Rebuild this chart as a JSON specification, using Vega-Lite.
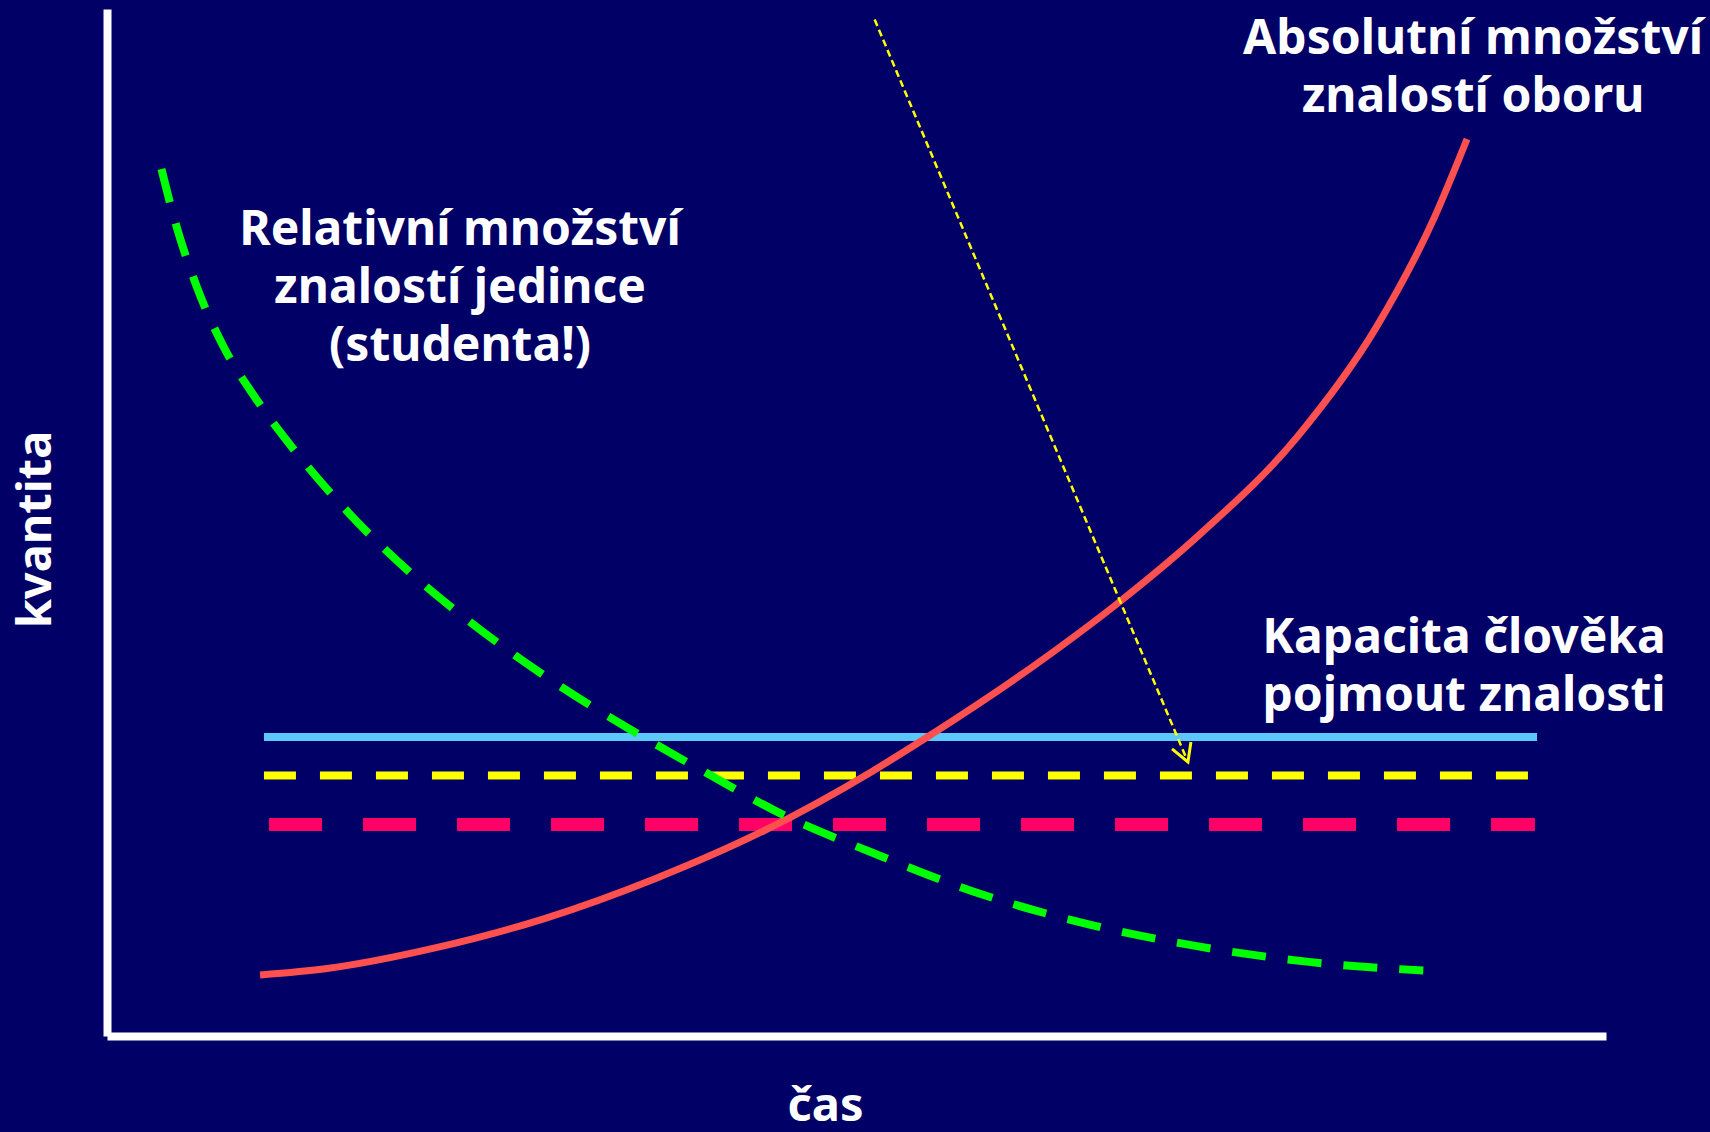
{
  "$schema": "https://vega.github.io/schema/vega-lite/v6.json",
  "width": 1499,
  "height": 1027,
  "autosize": {"type": "none"},
  "padding": {"left": 107, "top": 9, "right": 104, "bottom": 96},
  "background": "#000066",
  "config": {
    "view": {"stroke": null},
    "font": "Noto Sans",
    "axis": {
      "domainColor": "#FFFFFF",
      "domainWidth": 8,
      "ticks": false,
      "labels": false,
      "grid": false,
      "titleColor": "#FFFFFF",
      "titleFont": "Noto Sans",
      "titleFontSize": 47,
      "titleFontWeight": "bold"
    }
  },
  "datasets": {
    "absolute": [
      {"x": 10.21, "y": 5.94},
      {"x": 14.69, "y": 6.57},
      {"x": 21.96, "y": 8.6},
      {"x": 29.24, "y": 11.46},
      {"x": 36.52, "y": 15.29},
      {"x": 43.79, "y": 19.96},
      {"x": 51.07, "y": 25.79},
      {"x": 54.7, "y": 29.09},
      {"x": 61.98, "y": 36.2},
      {"x": 67.44, "y": 42.15},
      {"x": 72.9, "y": 48.84},
      {"x": 79.44, "y": 58.4},
      {"x": 84.68, "y": 69.02},
      {"x": 88.53, "y": 79.64},
      {"x": 90.73, "y": 87.34}
    ],
    "relative": [
      {"x": 3.63, "y": 84.42},
      {"x": 4.5, "y": 79.53},
      {"x": 5.96, "y": 73.06},
      {"x": 7.78, "y": 67.11},
      {"x": 9.96, "y": 62.01},
      {"x": 12.51, "y": 57.02},
      {"x": 16.14, "y": 50.91},
      {"x": 20.51, "y": 44.75},
      {"x": 24.15, "y": 40.4},
      {"x": 29.24, "y": 35.03},
      {"x": 35.79, "y": 29.09},
      {"x": 40.15, "y": 25.48},
      {"x": 45.24, "y": 21.44},
      {"x": 51.07, "y": 17.84},
      {"x": 58.34, "y": 13.8},
      {"x": 65.62, "y": 10.83},
      {"x": 72.9, "y": 8.7},
      {"x": 80.17, "y": 7.22},
      {"x": 87.81, "y": 6.37}
    ],
    "levels": [
      {"name": "kapacita", "x": 10.47, "x2": 95.4, "y": 29.11},
      {"name": "yellow", "x": 10.47, "x2": 94.8, "y": 25.37},
      {"name": "pink", "x": 10.81, "x2": 95.26, "y": 20.59}
    ],
    "arrow": [
      {"x": 51.21, "y": 98.97},
      {"x": 72.11, "y": 26.68}
    ],
    "arrowhead": [
      {"x": 71.05, "y": 27.95},
      {"x": 72.11, "y": 26.68},
      {"x": 72.31, "y": 28.63}
    ],
    "labels": [
      {"label": "Relativní množství\nznalostí jedince\n(studenta!)", "x": 23.55, "y": 77.02},
      {"label": "Absolutní množství\nznalostí oboru", "x": 91.13, "y": 95.57},
      {"label": "Kapacita člověka\npojmout znalosti", "x": 90.53, "y": 37.29}
    ]
  },
  "encoding": {
    "x": {"field": "x", "type": "quantitative", "scale": {"domain": [0, 100], "nice": false, "zero": false}},
    "y": {"field": "y", "type": "quantitative", "scale": {"domain": [0, 100], "nice": false, "zero": false}}
  },
  "layer": [
    {
      "data": {"name": "levels"},
      "transform": [{"filter": "datum.name === 'kapacita'"}],
      "mark": {"type": "rule", "color": "#5CC8F8", "strokeWidth": 8},
      "encoding": {
        "x": {"field": "x", "type": "quantitative", "scale": {"domain": [0, 100], "nice": false, "zero": false},
              "axis": {"title": "čas", "titleX": 718, "titleY": 84, "titleAlign": "center", "titleBaseline": "alphabetic", "domainCap": "butt"}},
        "y": {"field": "y", "type": "quantitative", "scale": {"domain": [0, 100], "nice": false, "zero": false},
              "axis": {"title": "kvantita", "titleAngle": 270, "titleX": -57, "titleY": 520, "titleAlign": "center", "titleBaseline": "alphabetic", "domainCap": "butt"}},
        "x2": {"field": "x2"}
      }
    },
    {
      "data": {"name": "levels"},
      "transform": [{"filter": "datum.name === 'yellow'"}],
      "mark": {"type": "rule", "color": "#FFFF00", "strokeWidth": 8, "strokeDash": [32, 24]},
      "encoding": {"x2": {"field": "x2"}}
    },
    {
      "data": {"name": "levels"},
      "transform": [{"filter": "datum.name === 'pink'"}],
      "mark": {"type": "rule", "color": "#FF0066", "strokeWidth": 13, "strokeDash": [53, 41]},
      "encoding": {"x2": {"field": "x2"}}
    },
    {
      "data": {"name": "absolute"},
      "mark": {"type": "line", "color": "#FF5050", "strokeWidth": 7, "interpolate": "monotone"},
      "encoding": {}
    },
    {
      "data": {"name": "relative"},
      "mark": {"type": "line", "color": "#00FF00", "strokeWidth": 8, "strokeDash": [34, 22], "interpolate": "monotone"},
      "encoding": {}
    },
    {
      "data": {"name": "arrow"},
      "mark": {"type": "line", "color": "#FFFF00", "strokeWidth": 2.5, "strokeDash": [7, 4]},
      "encoding": {}
    },
    {
      "data": {"name": "arrowhead"},
      "mark": {"type": "line", "color": "#FFFF00", "strokeWidth": 3},
      "encoding": {}
    },
    {
      "data": {"name": "labels"},
      "mark": {"type": "text", "color": "#FFFFFF", "font": "Noto Sans", "fontSize": 48, "fontWeight": "bold", "align": "center", "baseline": "alphabetic", "lineHeight": 58, "lineBreak": "\n"},
      "encoding": {"text": {"field": "label"}}
    }
  ]
}
